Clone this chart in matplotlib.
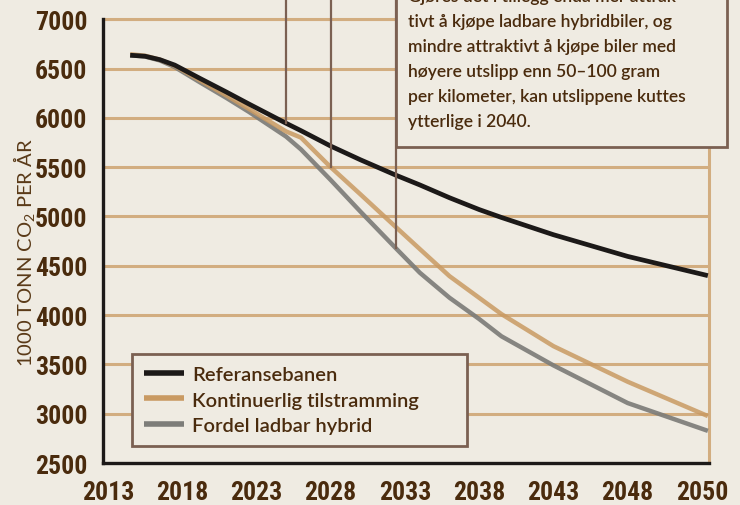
import numpy as np
import matplotlib.pyplot as plt
from matplotlib.patches import Rectangle

# CO2 emissions from passenger cars, three policy paths (1000 tonnes per year)
years = [2014.5, 2015.5, 2016.5, 2017.5, 2019.2, 2021, 2022.5, 2025, 2026,
         2028, 2030, 2032.4, 2034, 2036, 2038, 2039.5, 2043, 2048, 2053.4]
referanse = [6635, 6625, 6590, 6535, 6400, 6260, 6140, 5945, 5870,
             5714, 5575, 5418, 5320, 5190, 5070, 4990, 4815, 4595, 4400]
kontinuerlig = [6645, 6630, 6590, 6528, 6380, 6225, 6090, 5862, 5800,
                5500, 5225, 4891, 4670, 4395, 4175, 4010, 3685, 3324, 2976]
ladbar = [6635, 6622, 6582, 6515, 6360, 6200, 6060, 5810, 5680,
          5370, 5050, 4676, 4430, 4176, 3960, 3785, 3490, 3108, 2826]

xtick_pos = [2013, 2018, 2023, 2028, 2033, 2038, 2043, 2048, 2053]
xtick_labels = ['2013', '2018', '2023', '2028', '2033', '2038', '2043',
                '2048', '2050']
yticks = [2500, 3000, 3500, 4000, 4500, 5000, 5500, 6000, 6500, 7000]

# Leader lines: (year, value where the line meets its curve)
leaders = [(2025.0, 5945), (2028.0, 5500), (2032.4, 4676)]

note_lines = ['Gjøres det i tillegg enda mer attrak-',
              'tivt å kjøpe ladbare hybridbiler, og',
              'mindre attraktivt å kjøpe biler med',
              'høyere utslipp enn 50–100 gram',
              'per kilometer, kan utslippene kuttes',
              'ytterlige i 2040.']

bg = '#efebe2'
brown_text = '#4a2b0d'
grid_tan = '#d2ad80'
box_edge = '#7b6052'

plt.rcParams['mathtext.default'] = 'regular'

fig = plt.figure(figsize=(7.4, 5.06), dpi=100, facecolor=bg)
ax = fig.add_axes([0.139, 0.083, 0.819, 0.877], facecolor=bg)

ax.set_xlim(2012.66, 2053.47)
ax.set_ylim(2500, 7000)

for v in yticks[1:]:
    ax.axhline(v, color=grid_tan, linewidth=2.2, zorder=1)

ax.plot(years, ladbar, color='#7d7d79', linewidth=3.2, alpha=0.92,
        solid_capstyle='butt', zorder=3, label='Fordel ladbar hybrid')
ax.plot(years, kontinuerlig, color='#c99a62', linewidth=3.2, alpha=0.85,
        solid_capstyle='butt', zorder=4, label='Kontinuerlig tilstramming')
ax.plot(years, referanse, color='#1c1918', linewidth=3.4,
        solid_capstyle='butt', zorder=5, label='Referansebanen')

# vertical leaders running up out of the plot
for x, y in leaders:
    ax.plot([x, x], [y, 7300], color=box_edge, linewidth=1.6,
            clip_on=False, zorder=6)

ax.spines['top'].set_visible(False)
ax.spines['left'].set_color('#1c1918')
ax.spines['bottom'].set_color('#1c1918')
ax.spines['left'].set_linewidth(2.4)
ax.spines['bottom'].set_linewidth(2.4)
ax.spines['right'].set_color(grid_tan)
ax.spines['right'].set_linewidth(2.2)
ax.axhline(7000, color=grid_tan, linewidth=2.2, zorder=1, clip_on=False)

narrow = ['Roboto Condensed', 'Liberation Sans Narrow', 'DejaVu Sans']
tick_font = dict(family=narrow, weight='bold', stretch='condensed',
                 size=18.5, color=brown_text)
ax.set_xticks(xtick_pos)
ax.set_xticklabels(xtick_labels, **tick_font)
ax.set_yticks(yticks)
ax.set_yticklabels([str(v) for v in yticks], **tick_font)
ax.tick_params(axis='both', length=0)
ax.tick_params(axis='y', pad=11)
ax.tick_params(axis='x', pad=12)

fig.text(0.033, 0.5, '1000 TONN CO$_2$ PER ÅR', rotation=90,
         ha='center', va='center', fontsize=14.5, color='#5a3a18',
         family='Lato', weight='normal')

# legend, ordered as in the key box, stretched to the box width
handles, labels = ax.get_legend_handles_labels()
leg = ax.legend(handles[::-1], labels[::-1], loc='lower left',
                bbox_to_anchor=(0.048, 0.038, 0.553, 0.2), mode='expand',
                frameon=True, fancybox=False, handlelength=2.0,
                handletextpad=0.4, labelspacing=0.42, borderpad=0.6,
                borderaxespad=0,
                prop=dict(family='Lato', weight='semibold', size=14.5))
leg.get_frame().set_facecolor(bg)
leg.get_frame().set_edgecolor(box_edge)
leg.get_frame().set_linewidth(2)
leg.get_frame().set_alpha(1)
for t in leg.get_texts():
    t.set_color(brown_text)
for h in leg.get_lines():
    h.set_linewidth(4)
    h.set_alpha(1)
leg.set_zorder(10)

# note box, partly running off the top of the figure
box = Rectangle((0.535, 0.7075), 0.447, 0.4, transform=fig.transFigure,
                facecolor=bg, edgecolor=box_edge, linewidth=2,
                zorder=8, clip_on=False)
fig.patches.append(box)
for i, line in enumerate(note_lines):
    fig.text(0.551, 1.006 - i * 0.0495, line, ha='left', va='center',
             fontsize=12.6, color=brown_text, family='Lato',
             weight='semibold', zorder=9)

fig.savefig('out.png', dpi=100, facecolor=bg)
